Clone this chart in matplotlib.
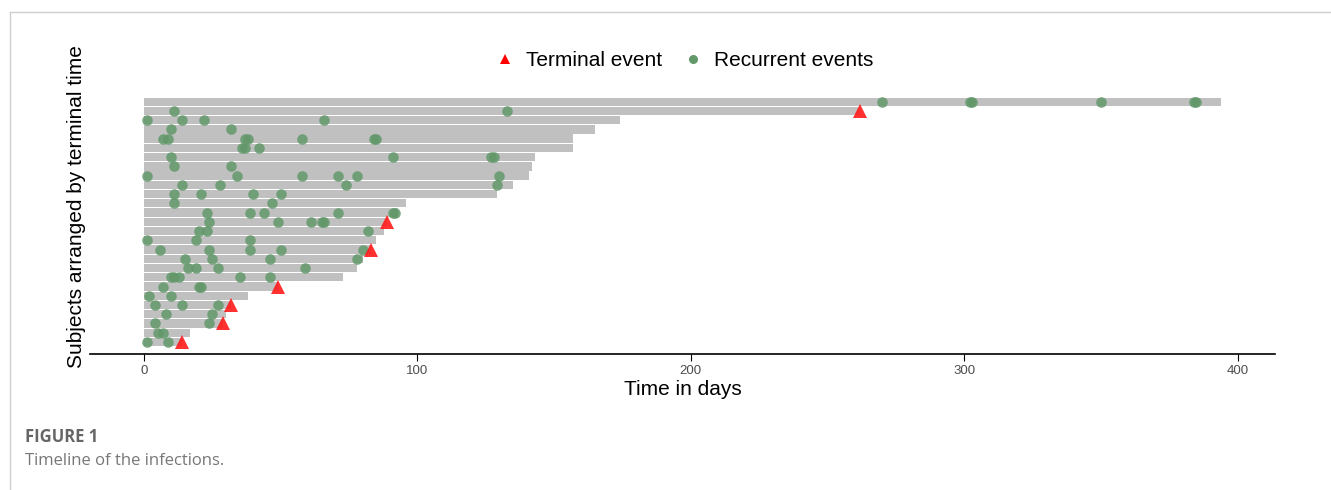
"""Timeline of the infections: one bar per subject, recurrent events as dots,
terminal events as triangles, subjects ordered by terminal time."""

import matplotlib.pyplot as plt
from matplotlib.lines import Line2D

# follow-up end per subject, listed top (longest) to bottom (shortest)
END_TIMES = [394, 262, 174, 165, 157, 157, 143, 142, 141, 135, 129, 96, 93,
             89, 88, 85, 83, 80, 78, 73, 49, 38, 32, 30, 29, 17, 14]
TERMINAL = [False, True, False, False, False, False, False, False, False,
            False, False, False, False, True, False, False, True, False,
            False, False, True, False, True, False, True, False, True]
RECURRENT = [
    [270, 302, 303, 350, 384, 385],
    [11, 133],
    [1, 14, 22, 66],
    [10, 32],
    [7, 9, 37, 38, 58, 84, 85],
    [36, 37, 42],
    [10, 91, 127, 128],
    [11, 32],
    [1, 34, 58, 71, 78, 130],
    [14, 28, 74, 129],
    [11, 21, 40, 50],
    [11, 47],
    [23, 39, 44, 71, 91, 92],
    [24, 49, 61, 65, 66],
    [20, 23, 82],
    [1, 19, 39],
    [6, 24, 39, 50, 80],
    [15, 25, 46, 78],
    [16, 19, 27, 59],
    [10, 11, 13, 35, 46],
    [7, 20, 21],
    [2, 10],
    [4, 14, 27],
    [8, 25],
    [4, 24],
    [5, 7],
    [1, 9],
]
X_TICKS = [0, 100, 200, 300, 400]

BAR_GREY = "#C0C0C0"
DOT_GREEN = "#62986A"
TRI_RED = "#FF1A1A"


def main() -> None:
    plt.rcParams["font.family"] = ["Liberation Sans", "DejaVu Sans"]
    fig = plt.figure(figsize=(13.31, 4.9), dpi=100)
    ax = fig.add_axes([0.0676, 0.2776, 0.8903, 0.5394])

    n = len(END_TIMES)
    ys = list(range(n, 0, -1))

    ax.barh(ys, END_TIMES, height=0.9, color=BAR_GREY, zorder=1)
    for y, events in zip(ys, RECURRENT):
        ax.plot(events, [y] * len(events), "o", color=DOT_GREEN, alpha=0.85,
                markersize=7.6, markeredgewidth=0, zorder=2)
    term_x = [t for t, f in zip(END_TIMES, TERMINAL) if f]
    term_y = [y for y, f in zip(ys, TERMINAL) if f]
    ax.plot(term_x, term_y, "^", color=TRI_RED, alpha=0.9, markersize=9.5,
            markeredgewidth=0, zorder=3)

    ax.set_xlim(-19.7, 413.7)
    ax.set_ylim(-0.3, n + 1.3)
    ax.set_xticks(X_TICKS)
    ax.set_yticks([])
    ax.tick_params(axis="x", labelsize=9.5, labelcolor="#4D4D4D",
                   length=5, width=0.8, pad=3)
    for side in ("top", "right", "left"):
        ax.spines[side].set_visible(False)
    ax.spines["bottom"].set_linewidth(1.2)
    ax.set_xlabel("Time in days", fontsize=15, labelpad=2)
    ax.set_ylabel("Subjects arranged by terminal time", fontsize=15,
                  labelpad=3, y=0.556)

    handles = [
        Line2D([], [], marker="^", linestyle="none", color="red",
               markersize=7, markeredgewidth=0, label="Terminal event"),
        Line2D([], [], marker="o", linestyle="none", color=DOT_GREEN,
               markersize=6.5, markeredgewidth=0, label="Recurrent events"),
    ]
    fig.legend(handles=handles, loc="center", bbox_to_anchor=(0.514, 0.876),
               ncols=2, frameon=False, fontsize=15, handletextpad=0.5,
               columnspacing=1.0, handlelength=1.0)

    # card frame and caption
    fig.add_artist(Line2D([10 / 1331, 1], [1 - 12 / 490] * 2,
                          color="#CFCFCF", linewidth=1))
    fig.add_artist(Line2D([10 / 1331] * 2, [0, 1 - 12 / 490],
                          color="#CFCFCF", linewidth=1))
    fig.text(25 / 1331, 1 - 437 / 490, "FIGURE 1", fontsize=12,
             fontweight="bold", color="#666666", va="center",
             family=["Open Sans", "DejaVu Sans"])
    fig.text(25 / 1331, 1 - 461 / 490, "Timeline of the infections.",
             fontsize=12, color="#777777", va="center",
             family=["Open Sans", "DejaVu Sans"])

    fig.savefig("out.png", dpi=100)


if __name__ == "__main__":
    main()
